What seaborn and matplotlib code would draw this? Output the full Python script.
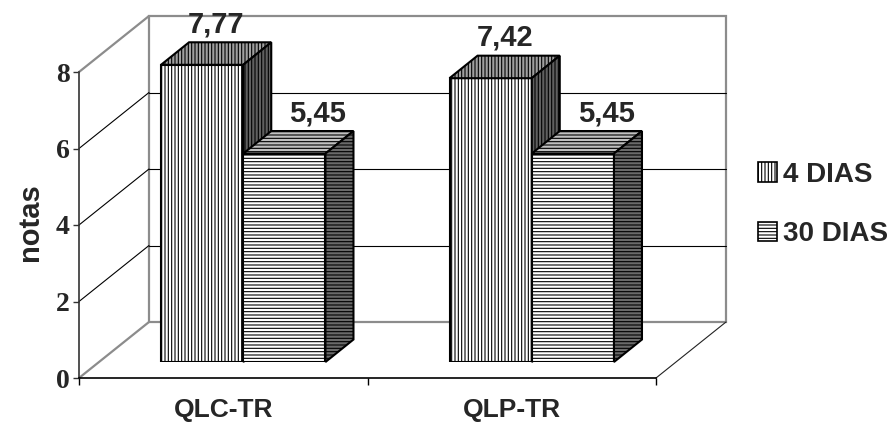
import matplotlib
matplotlib.use("Agg")
import matplotlib.pyplot as plt
import seaborn as sns
import pandas as pd
from matplotlib.patches import Polygon, Patch, Rectangle

# ---- data ----
grupos = ["QLC-TR", "QLP-TR"]
series = ["4 DIAS", "30 DIAS"]
notas_4 = [7.77, 7.42]
notas_30 = [5.45, 5.45]
y_ticks = [0, 2, 4, 6, 8]
y_label = "notas"

df = pd.DataFrame({
    "grupo": grupos * 2,
    "tempo": [series[0]] * 2 + [series[1]] * 2,
    "nota": notas_4 + notas_30,
})

sns.set_style("white")
plt.rcParams["font.family"] = ["Liberation Sans", "DejaVu Sans"]
plt.rcParams["hatch.linewidth"] = 0.8

W, H = 892, 424
fig = plt.figure(figsize=(W / 100, H / 100), dpi=100)

# geometry (pixels)
fx0, fy0 = 79, 378          # front plane origin
pw, ph = 577, 306           # plot width / height for 8 units
depth_dx, depth_dy = 70, 56  # full depth
bar_t = 16 / 56              # bar plane depth fraction
bdx, bdy = 28, 22.5          # bar depth in pixels

axF = fig.add_axes([fx0 / W, (H - fy0) / H, pw / W, ph / H])
bx0 = fx0 + depth_dx * bar_t
by0 = fy0 - depth_dy * bar_t
axB = fig.add_axes([bx0 / W, (H - by0) / H, pw / W, ph / H])
axF.set_zorder(0)
axB.set_zorder(1)

for ax in (axF, axB):
    ax.set_xlim(-0.5, 1.5)
    ax.set_ylim(0, 8)

ux = pw / 2.0   # px per category unit
uy = ph / 8.0   # px per value unit
Dx, Dy = depth_dx / ux, depth_dy / uy

gray = "#8c8c8c"
# back wall
axF.add_patch(Rectangle((-0.5 + Dx, Dy), 2.0, 8.0, fill=False, edgecolor=gray,
                        linewidth=1.6, clip_on=False, zorder=1))
# left wall edges
axF.plot([-0.5, -0.5 + Dx], [8, 8 + Dy], color=gray, lw=1.6, clip_on=False, zorder=1)
axF.plot([-0.5, -0.5 + Dx], [0, Dy], color=gray, lw=1.6, clip_on=False, zorder=1)
# floor right edge
axF.plot([1.5, 1.5 + Dx], [0, Dy], color="#222222", lw=0.8, clip_on=False, zorder=1)
# gridlines
for yv in y_ticks[1:-1]:
    axF.plot([-0.5 + Dx, 1.5 + Dx], [yv + Dy, yv + Dy], color="black", lw=0.8,
             clip_on=False, zorder=1)
    axF.plot([-0.5, -0.5 + Dx], [yv, yv + Dy], color="black", lw=0.8,
             clip_on=False, zorder=1)

# front axis styling
for s in ("top", "right"):
    axF.spines[s].set_visible(False)
axF.spines["left"].set_color("#333333")
axF.spines["left"].set_linewidth(1.2)
axF.spines["bottom"].set_color("black")
axF.spines["bottom"].set_linewidth(1.2)
axF.set_facecolor("none")
axF.set_yticks(y_ticks)
axF.set_yticklabels([str(v) for v in y_ticks], fontfamily="Liberation Serif",
                    fontweight="bold", fontsize=20)
axF.tick_params(axis="y", direction="out", length=4, width=1, color="#333333",
                pad=2.5, left=True)
axF.set_xticks([0, 1])
axF.set_xticklabels(grupos, fontweight="bold", fontsize=19)
axF.set_xticks([-0.5, 0.5, 1.5], minor=True)
axF.tick_params(axis="x", which="major", length=0, pad=14.5, bottom=True)
axF.tick_params(axis="x", which="minor", direction="out", length=5, width=1,
                color="black", bottom=True)
axF.set_ylabel(y_label, fontweight="bold", fontsize=21)
axF.yaxis.set_label_coords(-(fx0 - 30) / pw, 0.51)
axF.yaxis.label.set_va("center")

# ---- bars (front faces) ----
sns.barplot(data=df, x="grupo", y="nota", hue="tempo", hue_order=series,
            order=grupos, palette=["white", "white"], edgecolor="black",
            linewidth=1.5, width=0.57, gap=0, saturation=1, ax=axB,
            legend=False, err_kws={"linewidth": 0})
axB.set_xlim(-0.5, 1.5)
axB.set_ylim(0, 8)
axB.axis("off")

hatches = ["|||||", "-----"]
top_cols = ["#a0a0a0", "#c0c0c0"]
side_cols = ["#606060", "#6a6a6a"]
label_shift_pt = [0, 14]     # horizontal nudge of value labels per series
ddx, ddy = bdx / ux, bdy / uy

for i, cont in enumerate(axB.containers):
    z = 2 + i
    for p in cont.patches:
        x, w, h = p.get_x(), p.get_width(), p.get_height()
        p.set_hatch(hatches[i])
        p.set_zorder(z)
        top = Polygon([(x, h), (x + w, h), (x + w + ddx, h + ddy), (x + ddx, h + ddy)],
                      closed=True, facecolor=top_cols[i], edgecolor="black",
                      linewidth=1.5, hatch=hatches[i], zorder=z, clip_on=False)
        side = Polygon([(x + w, 0), (x + w + ddx, ddy), (x + w + ddx, h + ddy), (x + w, h)],
                       closed=True, facecolor=side_cols[i], edgecolor="black",
                       linewidth=1.5, hatch=hatches[i], zorder=z, clip_on=False)
        axB.add_patch(top)
        axB.add_patch(side)
        lab = f"{h:.2f}".replace(".", ",")
        axB.annotate(lab, (x + w / 2 + ddx / 2, h + ddy), xytext=(label_shift_pt[i], 7),
                     textcoords="offset points", ha="center", va="baseline",
                     fontsize=21, fontweight="bold", zorder=10,
                     annotation_clip=False)

# ---- legend ----
handles = [Patch(facecolor="white", edgecolor="black", hatch=hatches[i], linewidth=1.2)
           for i in range(2)]
fig.legend(handles, series, loc="center left",
           bbox_to_anchor=(758 / W, 1 - 204.5 / H), frameon=False,
           prop={"weight": "bold", "size": 20}, handlelength=0.7,
           handleheight=0.7, handletextpad=0.2, labelspacing=1.2,
           borderpad=0, borderaxespad=0)

fig.savefig("out.png", dpi=100, facecolor="white")
